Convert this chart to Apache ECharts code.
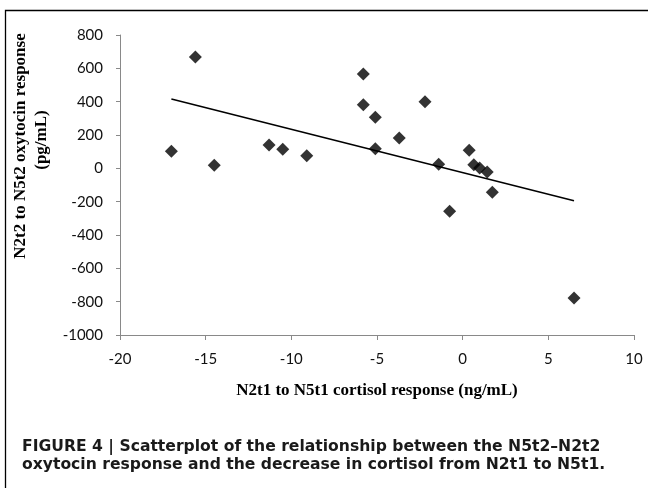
<!DOCTYPE html>
<html>
<head>
<meta charset="utf-8">
<script src="https://cdn.jsdelivr.net/npm/echarts@6/dist/echarts.min.js"></script>
<style>
html,body{margin:0;padding:0;background:#fff;}
#chart{width:648px;height:488px;}
</style>
</head>
<body>
<div id="chart"></div>
<script>
// Data
const cortisolX = [-17.0, -15.6, -14.5, -11.3, -10.5, -9.1, -5.8, -5.8, -5.1, -5.1, -3.7, -2.2, -1.4, -0.76, 0.38, 0.65, 0.99, 1.43, 1.73, 6.5];
const oxytocinY = [102, 668, 18, 140, 114, 76, 566, 382, 306, 118, 182, 400, 24, -258, 108, 22, 2, -22, -144, -778];
const trendX = [-17.0, 6.5];
const trendY = [416, -194];
const xTicks = [-20, 10, 5];   // min, max, interval
const yTicks = [-1000, 800, 200];
const xTitle = 'N2t1 to N5t1 cortisol response (ng/mL)';
const yTitle = ['N2t2 to N5t2 oxytocin response', '(pg/mL)'];
const caption = ['FIGURE 4 | Scatterplot of the relationship between the N5t2\u2013N2t2',
                 'oxytocin response and the decrease in cortisol from N2t1 to N5t1.'];

const chart = echarts.init(document.getElementById('chart'), null, {renderer: 'canvas'});
const axisGray = '#898989';
const tickFont = {fontFamily: 'Lato', fontSize: 15, color: '#111', formatter: v => String(v)};

chart.setOption({
  backgroundColor: '#fff',
  animation: false,
  grid: {left: 120, right: 14, top: 35, bottom: 153, containLabel: false},
  xAxis: {
    type: 'value', min: xTicks[0], max: xTicks[1], interval: xTicks[2],
    axisLine: {onZero: false, lineStyle: {color: axisGray, width: 1}},
    axisTick: {show: true, length: 5, lineStyle: {color: axisGray}},
    axisLabel: Object.assign({margin: 17}, tickFont),
    splitLine: {show: false}
  },
  yAxis: {
    type: 'value', min: yTicks[0], max: yTicks[1], interval: yTicks[2],
    axisLine: {show: true, onZero: false, lineStyle: {color: axisGray, width: 1}},
    axisTick: {show: true, length: 4, lineStyle: {color: axisGray}},
    axisLabel: Object.assign({margin: 17}, tickFont),
    splitLine: {show: false}
  },
  series: [
    {
      type: 'scatter',
      data: cortisolX.map((x, i) => [x, oxytocinY[i]]),
      symbol: 'diamond', symbolSize: 13,
      itemStyle: {color: '#000'}
    },
    {
      type: 'line',
      data: trendX.map((x, i) => [x, trendY[i]]),
      symbol: 'none',
      lineStyle: {color: '#000', width: 1.5},
      z: 1
    }
  ],
  graphic: [
    {type: 'polyline', shape: {points: [[5.5, 488], [5.5, 10.5], [648, 10.5]]},
     style: {stroke: '#000', lineWidth: 1.3, fill: null}},
    {type: 'text', x: 377, y: 391,
     style: {text: xTitle, font: 'bold 17px "Liberation Serif"', fill: '#000', textAlign: 'center', textVerticalAlign: 'middle'}},
    {type: 'text', x: 21, y: 146, rotation: Math.PI / 2,
     style: {text: yTitle[0], font: 'bold 17px "Liberation Serif"', fill: '#000', textAlign: 'center', textVerticalAlign: 'middle'}},
    {type: 'text', x: 42, y: 140, rotation: Math.PI / 2,
     style: {text: yTitle[1], font: 'bold 17px "Liberation Serif"', fill: '#000', textAlign: 'center', textVerticalAlign: 'middle'}},
    {type: 'text', x: 22, y: 447,
     style: {text: caption[0], font: 'bold 15.6px "DejaVu Sans"', fill: '#1a1a1a', textAlign: 'left', textVerticalAlign: 'middle'}},
    {type: 'text', x: 22, y: 465,
     style: {text: caption[1], font: 'bold 15.6px "DejaVu Sans"', fill: '#1a1a1a', textAlign: 'left', textVerticalAlign: 'middle'}}
  ]
});
</script>
</body>
</html>
